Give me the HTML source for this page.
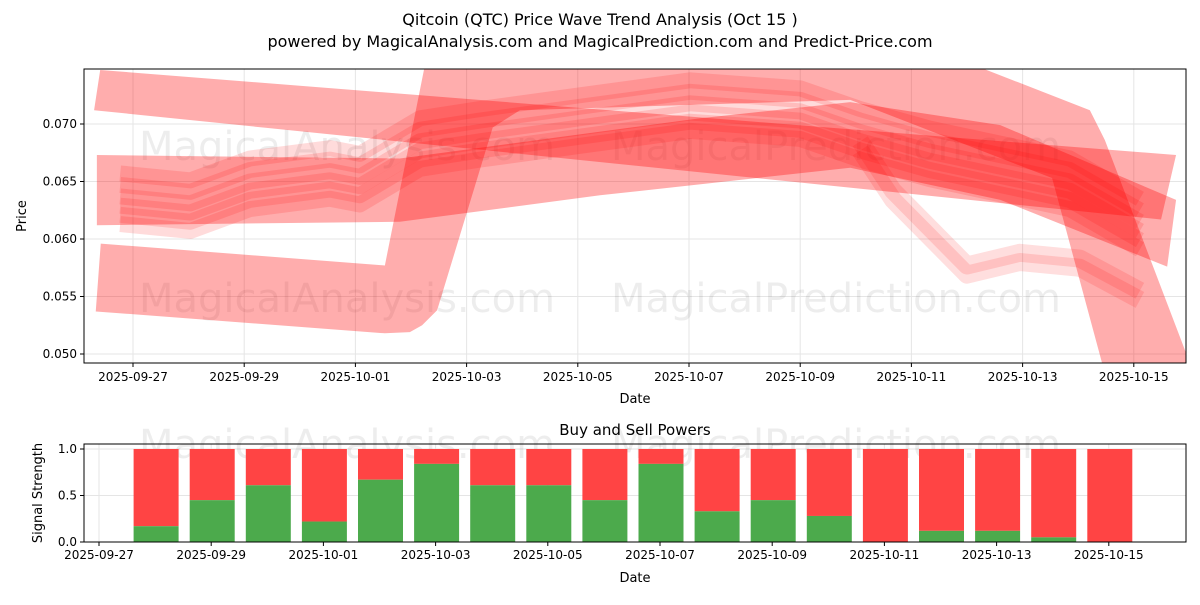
<!DOCTYPE html>
<html><head><meta charset="utf-8">
<style>
body{margin:0;background:#fff;font-family:"Liberation Sans","DejaVu Sans",sans-serif;}
svg text{font-family:"DejaVu Sans","Liberation Sans",sans-serif;}
</style></head>
<body>
<svg id="chart" width="1200" height="600" xmlns="http://www.w3.org/2000/svg">
<text x="600" y="25" text-anchor="middle" font-size="16">Qitcoin (QTC) Price Wave Trend Analysis (Oct 15 )</text>
<text x="600" y="47" text-anchor="middle" font-size="16">powered by MagicalAnalysis.com and MagicalPrediction.com and Predict-Price.com</text>
<g id="topg"></g>
<g id="bottom"></g>
</svg>
<script>
// ---- data ----
const bandADays = [-0.59,18.76,18.49,-0.70];
const bandAVals = [0.0747,0.0673,0.0617,0.0712];
const bandDDays = [-0.65,4.80,10.2,12.9,15.6,18.76,18.6,15.6,12.9,8.4,4.8,-0.65];
const bandDVals = [0.0673,0.0670,0.0705,0.0719,0.0699,0.0634,0.0576,0.0634,0.0662,0.0638,0.0615,0.0612];
const bandBDays = [-0.67,-0.58,4.53,5.34,13.97,17.21,17.48,19.01,17.43,16.53,12.9,6.96,6.47,5.47,5.2,4.98,4.53];
const bandBVals = [0.0537,0.0596,0.0577,0.0773,0.0773,0.0712,0.0686,0.0492,0.0492,0.0653,0.0721,0.0712,0.0697,0.0538,0.0525,0.0519,0.0518];
const mainDays = [-0.23,1.03,2.10,3.54,4.08,5.16,6.24,8.04,10.02,12.0,13.08,14.33,15.59,16.85,18.11];
const mainVals = [0.0621,0.0615,0.0634,0.0643,0.0638,0.0669,0.0677,0.0689,0.0702,0.0695,0.0677,0.0660,0.0647,0.0634,0.0599];
const branchDays = [13.08,13.67,15.0,15.95,17.03,18.11];
const branchVals = [0.0677,0.0634,0.0569,0.0580,0.0575,0.0547];
const waveOffsets = [0,0.0008,-0.0008,0.0016,0.0026,0.0036];
const yTicks = [0.050,0.055,0.060,0.065,0.070];
const xTickLabels = ["2025-09-27","2025-09-29","2025-10-01","2025-10-03","2025-10-05","2025-10-07","2025-10-09","2025-10-11","2025-10-13","2025-10-15"];
const xTickDays = [0,2,4,6,8,10,12,14,16,18];
const barDays = [1,2,3,4,5,6,7,8,9,10,11,12,13,14,15,16,17,18];
const buyVals = [0.17,0.45,0.61,0.22,0.67,0.84,0.61,0.61,0.45,0.84,0.33,0.45,0.28,0,0.12,0.12,0.05,0];
const sYTicks = [0,0.5,1.0];

const NS="http://www.w3.org/2000/svg";
function mk(tag,attrs,parent){const e=document.createElementNS(NS,tag);for(const k in attrs)e.setAttribute(k,attrs[k]);parent.appendChild(e);return e;}
const T={l:84,r:1186,t:69,b:363};
const tx=d=>133+d*55.6;
const ty=v=>124+(0.070-v)/0.005*57.5;
const topG=document.getElementById('topg');
yTicks.forEach(v=>{
 const y=ty(v);
 const g=mk('line',{x1:T.l,x2:T.r,y1:y,y2:y,stroke:'#e5e5e5'},topG);
 
 
 mk('line',{x1:T.l-4,x2:T.l,y1:y,y2:y,stroke:'#000'},topG);
 const t=mk('text',{x:T.l-7,y:y+4,'text-anchor':'end','font-size':12},topG);
 t.textContent=v.toFixed(3);
 
 
});
xTickDays.forEach((d,i)=>{
 const x=tx(d);
 mk('line',{x1:x,x2:x,y1:T.t,y2:T.b,stroke:'#e5e5e5'},topG);
 mk('line',{x1:x,x2:x,y1:T.b,y2:T.b+4,stroke:'#000'},topG);
 const t=mk('text',{x:x,y:T.b+18,'text-anchor':'middle','font-size':12},topG);
 t.textContent=xTickLabels[i];
 
 
});
[["MagicalAnalysis.com",347,160],["MagicalPrediction.com",836,160],["MagicalAnalysis.com",347,312],["MagicalPrediction.com",836,312]].forEach(w=>{
 const t=mk('text',{x:w[1],y:w[2],'text-anchor':'middle','font-size':40,fill:'#000','fill-opacity':0.07},topG);
 t.textContent=w[0];
 
 
});
const clip=mk('clipPath',{id:'tc'},topG);mk('rect',{x:T.l,y:T.t,width:T.r-T.l,height:T.b-T.t},clip);
const bands=mk('g',{'clip-path':'url(#tc)'},topG);
function pts(ds,vs){return ds.map((d,i)=>tx(d)+','+ty(vs[i])).join(' ');}
[[bandADays,bandAVals],[bandDDays,bandDVals],[bandBDays,bandBVals]].forEach(b=>{
 const p=mk('polygon',{points:pts(b[0],b[1]),fill:'#ff0000','fill-opacity':0.32,'stroke':'none'},bands);
 
 
});
waveOffsets.forEach(off=>{
 const p=mk('polyline',{points:pts(mainDays,mainVals.map(v=>v+off)),fill:'none',stroke:'#ff0000','stroke-opacity':0.14,'stroke-width':16,'stroke-linejoin':'round'},bands);
 
 
});
[0,0.0008].forEach(off=>{
 const p=mk('polyline',{points:pts(branchDays,branchVals.map(v=>v+off)),fill:'none',stroke:'#ff0000','stroke-opacity':0.13,'stroke-width':18,'stroke-linejoin':'round'},bands);
 
 
});
mk('rect',{x:T.l,y:T.t,width:T.r-T.l,height:T.b-T.t,fill:'none',stroke:'#000'},topG);
{const t=mk('text',{x:635,y:403,'text-anchor':'middle','font-size':13},topG);t.textContent='Date';
 }
{const t=mk('text',{x:26,y:216,'text-anchor':'middle','font-size':13,transform:'rotate(-90 26 216)'},topG);t.textContent='Price';
 }

const B={l:84,r:1186,t:444,b:542};
const bx=d=>99+d*56.1;
const by=v=>542-v*93;
const bot=document.getElementById('bottom');
sYTicks.forEach(v=>{
 const y=by(v);
 mk('line',{x1:B.l,x2:B.r,y1:y,y2:y,stroke:'#e5e5e5'},bot);
 mk('line',{x1:B.l-4,x2:B.l,y1:y,y2:y,stroke:'#000'},bot);
 const t=mk('text',{x:B.l-7,y:y+4,'text-anchor':'end','font-size':12},bot);
 t.textContent=v.toFixed(1);
 
 
});
xTickDays.forEach((d,i)=>{
 const x=bx(d);
 mk('line',{x1:x,x2:x,y1:B.t,y2:B.b,stroke:'#e5e5e5'},bot);
 mk('line',{x1:x,x2:x,y1:B.b,y2:B.b+4,stroke:'#000'},bot);
 const t=mk('text',{x:x,y:B.b+17,'text-anchor':'middle','font-size':12},bot);
 t.textContent=xTickLabels[i];
 
 
});
[["MagicalAnalysis.com",347,458],["MagicalPrediction.com",836,458]].forEach(w=>{
 const t=mk('text',{x:w[1],y:w[2],'text-anchor':'middle','font-size':40,fill:'#000','fill-opacity':0.07},bot);
 t.textContent=w[0];
 
 
});
barDays.forEach((d,i)=>{
 const x=bx(d)-21.5,b=buyVals[i];
 const s=mk('rect',{x:x,y:by(1),width:45,height:by(b)-by(1),fill:'#ff4444'},bot);
 
 
 const g=mk('rect',{x:x,y:by(b),width:45,height:by(0)-by(b),fill:'#4caa4c'},bot);
 
 
});
mk('rect',{x:B.l,y:B.t,width:B.r-B.l,height:B.b-B.t,fill:'none',stroke:'#000'},bot);
{const t=mk('text',{x:635,y:435,'text-anchor':'middle','font-size':15},bot);t.textContent='Buy and Sell Powers';
 }
{const t=mk('text',{x:635,y:582,'text-anchor':'middle','font-size':13},bot);t.textContent='Date';
 }
{const t=mk('text',{x:42,y:493,'text-anchor':'middle','font-size':13,transform:'rotate(-90 42 493)'},bot);t.textContent='Signal Strength';
 }
</script>
</body></html>
